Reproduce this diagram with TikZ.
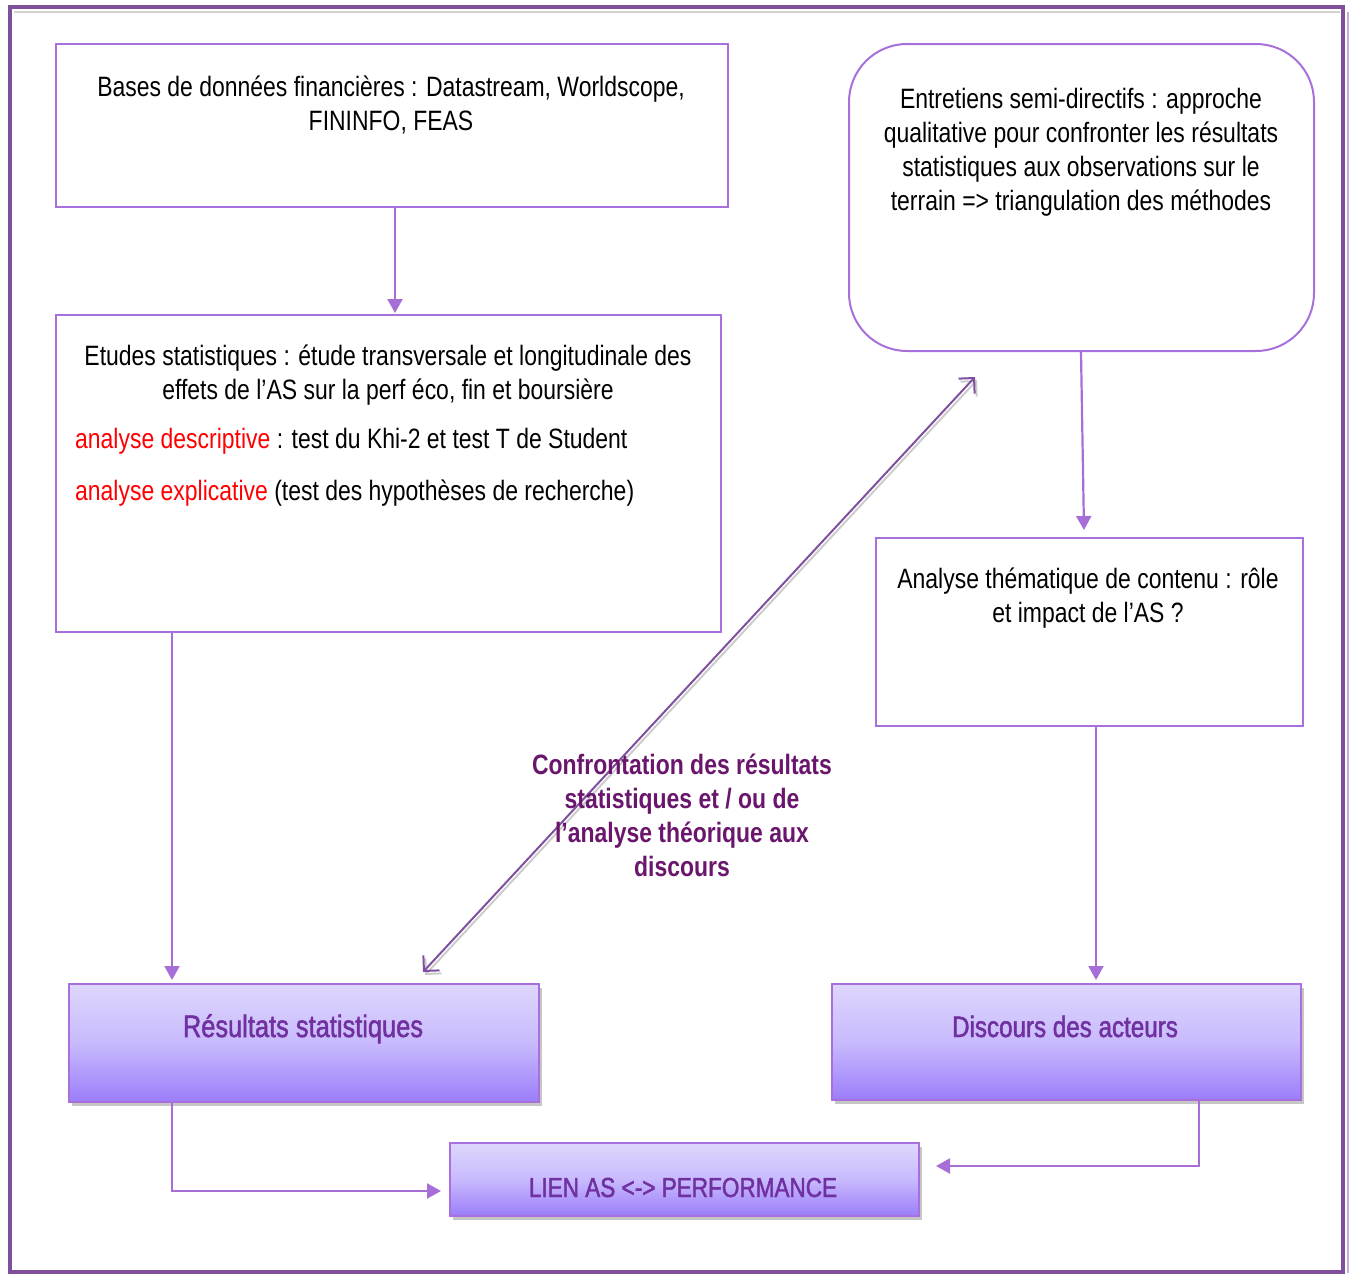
\documentclass[tikz,border=0pt]{standalone}
\usepackage{fontspec}
\setmainfont{Liberation Sans}[FakeStretch=0.82]
\newfontfamily\medfont{Liberation Sans}[FakeStretch=0.82,FakeBold=1.6]
\usetikzlibrary{arrows.meta,shadows}
\definecolor{frame}{RGB}{126,80,156}
\definecolor{boxline}{RGB}{168,112,220}
\definecolor{arr}{RGB}{166,110,214}
\definecolor{gtop}{RGB}{222,214,253}
\definecolor{gmid}{RGB}{200,186,253}
\definecolor{gbot}{RGB}{155,125,250}
\definecolor{gtext}{RGB}{112,48,160}
\definecolor{labtext}{RGB}{105,22,108}
\definecolor{dbl}{RGB}{128,80,160}
\tikzset{
  plainbox/.style={draw=boxline, line width=2pt, fill=white, inner sep=0pt},
  gradbox/.style={draw=boxline, line width=2pt, inner sep=0pt,
    top color=gtop, bottom color=gbot, middle color=gmid,
    drop shadow={shadow xshift=3pt, shadow yshift=-4pt, fill=gray!45, opacity=1}},
  txt/.style={align=center, inner sep=0pt, font=\fontsize{28}{34}\selectfont},
  gtxt/.style={inner sep=0pt, text=gtext, font=\medfont\fontsize{31}{34}\selectfont},
  conn/.style={draw=arr, line width=2.2pt, -{Triangle[length=14pt,width=15pt]}},
  dblarrow/.style={line width=2pt, {Straight Barb[length=11pt,width=22pt,line width=2pt]}-{Straight Barb[length=11pt,width=22pt,line width=2pt]}}
}
\begin{document}
\begin{tikzpicture}[x=1pt,y=-1pt]
\useasboundingbox (0,0) rectangle (1353,1274);
% outer frame
\draw[gray!35, line width=2pt] (14,12) -- (1340,12);
\draw[frame!45, line width=2pt] (1348,12) -- (1348,1273);
\draw[frame, line width=4.5pt] (10,7) rectangle (1343,1272);

% boxes
\node[plainbox, anchor=north west, minimum width=672pt, minimum height=163pt] (bases) at (55,43) {};
\node[plainbox, anchor=north west, minimum width=665pt, minimum height=317pt] (etudes) at (55,314) {};
\node[plainbox, rounded corners=58pt, anchor=north west, minimum width=465pt, minimum height=307pt] (entre) at (848,43) {};
\node[plainbox, anchor=north west, minimum width=427pt, minimum height=188pt] (analyse) at (875,537) {};
\node[gradbox, anchor=north west, minimum width=470pt, minimum height=118pt] (resul) at (68,983) {};
\node[gradbox, anchor=north west, minimum width=469pt, minimum height=116pt] (disc) at (831,983) {};
\node[gradbox, anchor=north west, minimum width=469pt, minimum height=73pt] (lien) at (449,1142) {};

% texts
\node[txt] (tbases) at (391,105) {Bases de données financières : Datastream, Worldscope,\\FININFO, FEAS};
\node[txt] (tetudes) at (388,375) {Etudes statistiques : étude transversale et longitudinale des\\effets de l’AS sur la perf éco, fin et boursière};
\node[txt, anchor=west] (tdesc) at (75,441) {\textcolor{red}{analyse descriptive} : test du Khi-2 et test T de Student};
\node[txt, anchor=west] (texpl) at (75,493) {\textcolor{red}{analyse explicative} (test des hypothèses de recherche)};
\node[txt] (tentre) at (1081,152) {Entretiens semi-directifs : approche\\qualitative pour confronter les résultats\\statistiques aux observations sur le\\terrain => triangulation des méthodes};
\node[txt] (tanal) at (1088,598) {Analyse thématique de contenu : rôle\\et impact de l’AS ?};
\node[gtxt, anchor=base] (tresul) at (303,1037) {Résultats statistiques};
\node[gtxt, anchor=base, font=\medfont\fontsize{29.5}{34}\selectfont] (tdisc) at (1065,1037) {Discours des acteurs};
\node[gtxt, anchor=base, font=\medfont\fontsize{27.5}{34}\selectfont] (tlien) at (683,1197) {LIEN AS <-> PERFORMANCE};

% connectors
\draw[conn] (bases.south -| 395,0) -- (395,313);
\draw[conn] (entre.south -| 1081,0) -- (1084,530);
\draw[conn] (etudes.south -| 172,0) -- (172,980);
\draw[conn] (analyse.south -| 1096,0) -- (1096,980);
\draw[conn] (resul.south -| 172,0) -- (172,1191) -- (441,1191);
\draw[conn] (disc.south -| 1199,0) -- (1199,1166) -- (936,1166);

% double arrow
\coordinate (dA) at (423,972);
\coordinate (dB) at (975,377);
\draw[dblarrow, draw=gray!40] ([shift={(2,3)}]dA) -- ([shift={(2,3)}]dB);
\draw[dblarrow, draw=dbl] (dA) -- (dB);

% label
\node[txt, text=labtext, font=\fontsize{28}{34}\selectfont\bfseries] (tconf) at (682,815) {Confrontation des résultats\\statistiques et / ou de\\l’analyse théorique aux\\discours};
\end{tikzpicture}
\end{document}
